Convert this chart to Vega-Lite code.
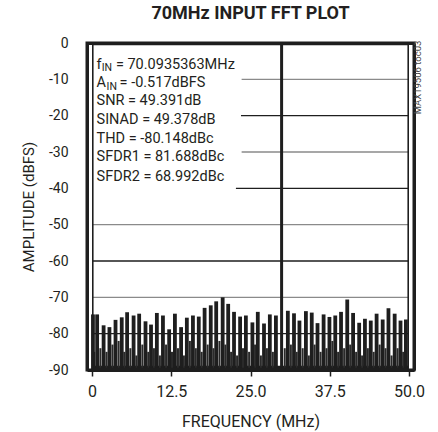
{
  "$schema": "https://vega.github.io/schema/vega-lite/v6.json",
  "autosize": {"type": "none"},
  "padding": {"left": 87, "top": 43, "right": 24, "bottom": 62},
  "width": 327,
  "height": 327,
  "background": "white",
  "config": {
    "view": {"stroke": "#1e1e1e", "strokeWidth": 3},
    "axis": {"labelOverlap": false, "labelFlush": false, "labelBound": false, "labelSeparation": 0},
    "font": "Liberation Sans Narrow, Roboto, sans-serif"
  },
  "title": {
    "text": "70MHz INPUT FFT PLOT",
    "fontSize": 18,
    "fontWeight": "bold",
    "font": "Liberation Sans Narrow, Roboto, sans-serif",
    "anchor": "middle",
    "offset": 13,
    "color": "#231f20"
  },
  "resolve": {"axis": {"x": "independent", "y": "independent"}},
  "datasets": {
    "grid": [
      {"f": 23.6, "db": -10, "c": "#8a8a8a"},
      {"f": 23.5, "db": -20, "c": "#1e1e1e"},
      {"f": 23.6, "db": -30, "c": "#8a8a8a"},
      {"f": 22.7, "db": -40, "c": "#1e1e1e"},
      {"f": 0, "db": -50, "c": "#8a8a8a"},
      {"f": 0, "db": -60, "c": "#1e1e1e"},
      {"f": 0, "db": -70, "c": "#8a8a8a"},
      {"f": 0, "db": -80, "c": "#1e1e1e"}
    ],
    "frame": [
      {"f": 0, "f2": 50, "db": 0, "db2": -0.6},
      {"f": 0, "f2": 50, "db": -89.4, "db2": -90},
      {"f": 0, "f2": 0.25, "db": 0, "db2": -90},
      {"f": 49.75, "f2": 50, "db": 0, "db2": -90}
    ],
    "floor": [
      {"f": 0, "f2": 50, "db": -88.8}
    ],
    "minor": [
      {"f": 0.35, "db": -85}, {"f": 1.32, "db": -84}, {"f": 2.29, "db": -85}, {"f": 3.23, "db": -83},
      {"f": 4.2, "db": -82}, {"f": 5.1, "db": -85}, {"f": 6.05, "db": -84}, {"f": 7.0, "db": -86},
      {"f": 7.94, "db": -83}, {"f": 8.88, "db": -85}, {"f": 9.77, "db": -84}, {"f": 10.71, "db": -86},
      {"f": 11.68, "db": -83}, {"f": 12.62, "db": -85}, {"f": 13.56, "db": -84}, {"f": 14.5, "db": -86},
      {"f": 15.44, "db": -82}, {"f": 16.38, "db": -84}, {"f": 17.3, "db": -85}, {"f": 18.24, "db": -83},
      {"f": 19.16, "db": -84}, {"f": 20.1, "db": -82}, {"f": 21.04, "db": -83}, {"f": 21.94, "db": -85},
      {"f": 22.88, "db": -86}, {"f": 23.82, "db": -84}, {"f": 24.78, "db": -85}, {"f": 25.72, "db": -83},
      {"f": 26.64, "db": -86}, {"f": 27.59, "db": -84}, {"f": 28.53, "db": -85}, {"f": 30.4, "db": -84},
      {"f": 31.37, "db": -83}, {"f": 32.29, "db": -85}, {"f": 33.23, "db": -84}, {"f": 34.2, "db": -86},
      {"f": 35.11, "db": -83}, {"f": 36.05, "db": -85}, {"f": 36.99, "db": -84}, {"f": 37.91, "db": -82},
      {"f": 38.82, "db": -85}, {"f": 39.77, "db": -84}, {"f": 40.72, "db": -83}, {"f": 41.66, "db": -85},
      {"f": 42.6, "db": -86}, {"f": 43.51, "db": -84}, {"f": 44.43, "db": -85}, {"f": 45.37, "db": -83},
      {"f": 46.3, "db": -84}, {"f": 47.25, "db": -86}, {"f": 48.2, "db": -84}, {"f": 49.08, "db": -85}
    ],
    "spurs": [
      {"f": 0.15, "db": -74.7}, {"f": 0.81, "db": -74.7}, {"f": 1.83, "db": -77.7}, {"f": 2.75, "db": -78.2},
      {"f": 3.71, "db": -76.2}, {"f": 4.69, "db": -75.5}, {"f": 5.54, "db": -74.1}, {"f": 6.56, "db": -75.0},
      {"f": 7.44, "db": -74.5}, {"f": 8.44, "db": -76.6}, {"f": 9.31, "db": -77.5}, {"f": 10.23, "db": -74.3},
      {"f": 11.19, "db": -75.0}, {"f": 12.17, "db": -78.8}, {"f": 13.08, "db": -74.5}, {"f": 14.05, "db": -78.2},
      {"f": 14.96, "db": -75.6}, {"f": 15.92, "db": -75.0}, {"f": 16.84, "db": -75.3}, {"f": 17.76, "db": -72.9},
      {"f": 18.73, "db": -72.2}, {"f": 19.59, "db": -71.1}, {"f": 20.61, "db": -70.0}, {"f": 21.48, "db": -71.8},
      {"f": 22.4, "db": -74.0}, {"f": 23.36, "db": -75.3}, {"f": 24.27, "db": -75.0}, {"f": 25.3, "db": -76.9},
      {"f": 26.15, "db": -74.0}, {"f": 27.13, "db": -77.2}, {"f": 28.05, "db": -74.7}, {"f": 29.01, "db": -75.0},
      {"f": 30.89, "db": -73.7}, {"f": 31.86, "db": -74.4}, {"f": 32.72, "db": -76.4}, {"f": 33.74, "db": -73.8},
      {"f": 34.66, "db": -74.2}, {"f": 35.57, "db": -77.1}, {"f": 36.53, "db": -74.7}, {"f": 37.45, "db": -75.4},
      {"f": 38.37, "db": -75.0}, {"f": 39.28, "db": -74.0}, {"f": 40.26, "db": -70.6}, {"f": 41.18, "db": -74.3},
      {"f": 42.14, "db": -77.0}, {"f": 43.05, "db": -75.9}, {"f": 43.97, "db": -76.4}, {"f": 44.89, "db": -74.5},
      {"f": 45.85, "db": -76.1}, {"f": 46.76, "db": -73.0}, {"f": 47.74, "db": -74.5}, {"f": 48.66, "db": -76.4},
      {"f": 49.51, "db": -76.1}
    ],
    "fundamental": [
      {"f": 29.906, "db": -0.517}
    ],
    "notes": [
      {"f": 0.72, "db": -6.05, "t": "f"},
      {"f": 3.77, "db": -6.05, "t": "= 70.0935363MHz"},
      {"f": 0.72, "db": -11.1, "t": "A"},
      {"f": 4.35, "db": -11.1, "t": "= -0.517dBFS"},
      {"f": 0.72, "db": -16.0, "t": "SNR = 49.391dB"},
      {"f": 0.72, "db": -21.2, "t": "SINAD = 49.378dB"},
      {"f": 0.72, "db": -26.4, "t": "THD = -80.148dBc"},
      {"f": 0.72, "db": -31.4, "t": "SFDR1 = 81.688dBc"},
      {"f": 0.72, "db": -36.8, "t": "SFDR2 = 68.992dBc"}
    ],
    "subs": [
      {"f": 1.53, "db": -6.9, "t": "IN"},
      {"f": 2.3, "db": -12.0, "t": "IN"}
    ],
    "side": [
      {"f": 51.4, "db": -9.5, "t": "MAX19506 toc03"}
    ]
  },
  "layer": [
    {
      "data": {"name": "grid"},
      "mark": {"type": "rule", "strokeWidth": 1.4},
      "encoding": {
        "x": {
          "field": "f", "type": "quantitative",
          "scale": {"domain": [0, 50], "nice": false, "zero": false},
          "axis": {
            "title": "FREQUENCY (MHz)",
            "values": [0, 12.5, 25, 37.5, 50],
            "labelExpr": "datum.value == 0 ? '0' : format(datum.value, '.1f')",
            "labelOverlap": false,
            "domain": true, "domainWidth": 3, "domainColor": "#1e1e1e", "grid": false,
            "tickSize": 6, "tickColor": "#1e1e1e", "tickWidth": 1.5,
            "labelFontSize": 16, "labelColor": "#231f20", "labelPadding": 7,
            "titleFontSize": 16, "titleFontWeight": "normal", "titleColor": "#231f20", "titlePadding": 14
          }
        },
        "x2": {"datum": 50},
        "y": {
          "field": "db", "type": "quantitative",
          "scale": {"domain": [-90, 0], "nice": false, "zero": false},
          "axis": {
            "title": "AMPLITUDE (dBFS)",
            "tickCount": 10,
            "format": "d",
            "labelExpr": "replace(datum.label, '\u2212', '-')",
            "labelOverlap": false,
            "domain": true, "domainWidth": 3, "domainColor": "#1e1e1e", "grid": false,
            "ticks": false,
            "labelFontSize": 14, "labelColor": "#231f20", "labelPadding": 19,
            "titleFontSize": 15, "titleFontWeight": "normal", "titleColor": "#231f20", "titlePadding": 12
          }
        },
        "color": {"field": "c", "type": "nominal", "scale": null}
      }
    },
    {
      "data": {"name": "floor"},
      "mark": {"type": "rect", "color": "#1e1e1e"},
      "encoding": {
        "x": {"field": "f", "type": "quantitative", "axis": null},
        "x2": {"field": "f2"},
        "y": {"field": "db", "type": "quantitative", "axis": null},
        "y2": {"datum": -90}
      }
    },
    {
      "data": {"name": "minor"},
      "mark": {"type": "bar", "width": 2, "color": "#2a2a2a"},
      "encoding": {
        "x": {"field": "f", "type": "quantitative", "axis": null},
        "y": {"field": "db", "type": "quantitative", "axis": null},
        "y2": {"datum": -90}
      }
    },
    {
      "data": {"name": "spurs"},
      "mark": {"type": "bar", "width": 3.8, "color": "#1e1e1e"},
      "encoding": {
        "x": {"field": "f", "type": "quantitative", "axis": null},
        "y": {"field": "db", "type": "quantitative", "axis": null},
        "y2": {"datum": -90}
      }
    },
    {
      "data": {"name": "fundamental"},
      "mark": {"type": "bar", "width": 3, "color": "#1e1e1e"},
      "encoding": {
        "x": {"field": "f", "type": "quantitative", "axis": null},
        "y": {"field": "db", "type": "quantitative", "axis": null},
        "y2": {"datum": -90}
      }
    },
    {
      "data": {"name": "frame"},
      "mark": {"type": "rect", "color": "#1e1e1e"},
      "encoding": {
        "x": {"field": "f", "type": "quantitative", "axis": {"orient": "top", "labels": false, "ticks": false, "title": null, "domain": true, "domainWidth": 3, "domainColor": "#1e1e1e", "grid": false}},
        "x2": {"field": "f2"},
        "y": {"field": "db", "type": "quantitative", "axis": {"orient": "right", "labels": false, "ticks": false, "title": null, "domain": true, "domainWidth": 3, "domainColor": "#1e1e1e", "grid": false}},
        "y2": {"field": "db2"}
      }
    },
    {
      "data": {"name": "notes"},
      "mark": {"type": "text", "align": "left", "baseline": "middle", "fontSize": 14.5, "color": "#231f20"},
      "encoding": {
        "x": {"field": "f", "type": "quantitative", "axis": null},
        "y": {"field": "db", "type": "quantitative", "axis": null},
        "text": {"field": "t"}
      }
    },
    {
      "data": {"name": "subs"},
      "mark": {"type": "text", "align": "left", "baseline": "middle", "fontSize": 10.5, "color": "#231f20"},
      "encoding": {
        "x": {"field": "f", "type": "quantitative", "axis": null},
        "y": {"field": "db", "type": "quantitative", "axis": null},
        "text": {"field": "t"}
      }
    },
    {
      "data": {"name": "side"},
      "mark": {"type": "text", "align": "center", "baseline": "middle", "angle": 270, "fontSize": 9.5, "color": "#444444"},
      "encoding": {
        "x": {"field": "f", "type": "quantitative", "axis": null},
        "y": {"field": "db", "type": "quantitative", "axis": null},
        "text": {"field": "t"}
      }
    }
  ]
}
